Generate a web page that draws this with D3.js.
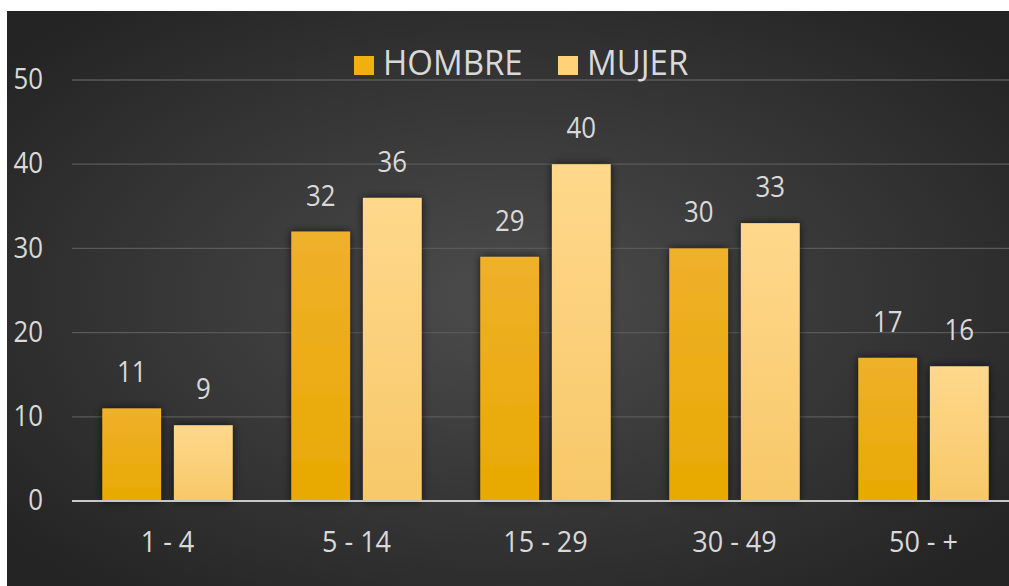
<!DOCTYPE html>
<html>
<head>
<meta charset="utf-8">
<script src="https://cdn.jsdelivr.net/npm/d3@7"></script>
<style>
  html, body { margin: 0; padding: 0; background: #fff; }
  svg { display: block; }
  text { font-family: "Open Sans", "Noto Sans", sans-serif; }
</style>
</head>
<body>
<div id="chart"></div>
<script>
// datos
const categories = ['1 - 4', '5 - 14', '15 - 29', '30 - 49', '50 - +'];
const hombre = [11, 32, 29, 30, 17];
const mujer = [9, 36, 40, 33, 16];
const seriesNames = ['HOMBRE', 'MUJER'];
const yTicks = [0, 10, 20, 30, 40, 50];

const width = 1009, height = 586;
const svg = d3.select('#chart').append('svg').attr('width', width).attr('height', height);
const defs = svg.append('defs');

// la fuente del original es más estrecha: se comprime el texto
function squeeze (sel, k) {
  sel.each(function () {
    const len = this.getComputedTextLength();
    d3.select(this).attr('textLength', len * k).attr('lengthAdjust', 'spacingAndGlyphs');
  });
}

// fondo con degradado radial
const bg = defs.append('radialGradient').attr('id', 'bg')
  .attr('cx', '50%').attr('cy', '50%').attr('r', '65%');
bg.append('stop').attr('offset', '0%').attr('stop-color', '#4c4c4c');
bg.append('stop').attr('offset', '100%').attr('stop-color', '#242424');

const gH = defs.append('linearGradient').attr('id', 'gH').attr('x1', 0).attr('y1', 0).attr('x2', 0).attr('y2', 1);
gH.append('stop').attr('offset', '0%').attr('stop-color', '#efb02c');
gH.append('stop').attr('offset', '100%').attr('stop-color', '#e8a900');
const gM = defs.append('linearGradient').attr('id', 'gM').attr('x1', 0).attr('y1', 0).attr('x2', 0).attr('y2', 1);
gM.append('stop').attr('offset', '0%').attr('stop-color', '#ffd88c');
gM.append('stop').attr('offset', '100%').attr('stop-color', '#f7c868');

const shadow = defs.append('filter').attr('id', 'sh').attr('x', '-30%').attr('y', '-30%').attr('width', '160%').attr('height', '160%');
shadow.append('feDropShadow').attr('dx', 0).attr('dy', 0).attr('stdDeviation', 4)
  .attr('flood-color', '#000').attr('flood-opacity', 0.7);

svg.append('rect').attr('x', 7).attr('y', 11).attr('width', width - 7).attr('height', height - 11)
  .attr('fill', 'url(#bg)');

const margin = { left: 73, right: -9, top: 80, bottom: 85 };
const x0 = d3.scaleBand().domain(categories).range([margin.left, width - margin.right])
  .paddingInner(0.31).paddingOuter(0.155);
const x1 = d3.scaleBand().domain(seriesNames).range([0, x0.bandwidth()]).paddingInner(0.18);
const y = d3.scaleLinear().domain([0, 50]).range([height - margin.bottom, margin.top]);

// rejilla
const grid = svg.append('g');
grid.selectAll('line').data(yTicks.filter(d => d > 0)).join('line')
  .attr('x1', 72).attr('x2', width)
  .attr('y1', d => y(d)).attr('y2', d => y(d))
  .attr('stroke', '#5a5a5a').attr('stroke-width', 1.3);

// eje y
const yAxis = svg.append('g').attr('transform', 'translate(43,-1)')
  .call(d3.axisLeft(y).tickValues(yTicks).tickSize(0).tickPadding(0));
yAxis.select('.domain').remove();
yAxis.selectAll('text').attr('fill', '#d9d9d9').attr('font-size', 30).call(squeeze, 0.86);

// barras
const data = categories.map((c, i) => ({ cat: c, vals: [hombre[i], mujer[i]] }));
const groups = svg.append('g').selectAll('g').data(data).join('g')
  .attr('transform', d => `translate(${x0(d.cat)},0)`);
groups.selectAll('rect').data(d => d.vals.map((v, j) => ({ key: seriesNames[j], v })))
  .join('rect')
  .attr('x', d => x1(d.key)).attr('width', x1.bandwidth())
  .attr('y', d => y(d.v)).attr('height', d => y(0) - y(d.v))
  .attr('fill', d => d.key === 'HOMBRE' ? 'url(#gH)' : 'url(#gM)')
  .attr('filter', 'url(#sh)');
groups.selectAll('text').data(d => d.vals.map((v, j) => ({ key: seriesNames[j], v })))
  .join('text')
  .attr('x', d => x1(d.key) + x1.bandwidth() / 2).attr('y', d => y(d.v) - 26)
  .attr('text-anchor', 'middle').attr('fill', '#d9d9d9').attr('font-size', 30)
  .text(d => d.v)
  .call(squeeze, 0.86);

// eje x
svg.append('line').attr('x1', 72).attr('x2', width).attr('y1', y(0)).attr('y2', y(0))
  .attr('stroke', '#c8c8c8').attr('stroke-width', 2);
const xAxis = svg.append('g').attr('transform', `translate(0,${y(0)})`)
  .call(d3.axisBottom(x0).tickSize(0).tickPadding(0));
xAxis.select('.domain').remove();
xAxis.selectAll('text').attr('fill', '#d9d9d9').attr('font-size', 30)
  .attr('dy', null).attr('y', 51)
  .call(squeeze, 0.9);

// leyenda
const legend = svg.append('g');
const legX = [354, 558];
seriesNames.forEach((name, i) => {
  legend.append('rect').attr('x', legX[i]).attr('y', 56).attr('width', 20).attr('height', 19)
    .attr('fill', i === 0 ? '#f0b010' : '#ffd27a');
  legend.append('text').attr('x', legX[i] + 29).attr('y', 75)
    .attr('fill', '#d9d9d9').attr('font-size', 34).text(name)
    .call(squeeze, 0.97);
});
</script>
</body>
</html>
